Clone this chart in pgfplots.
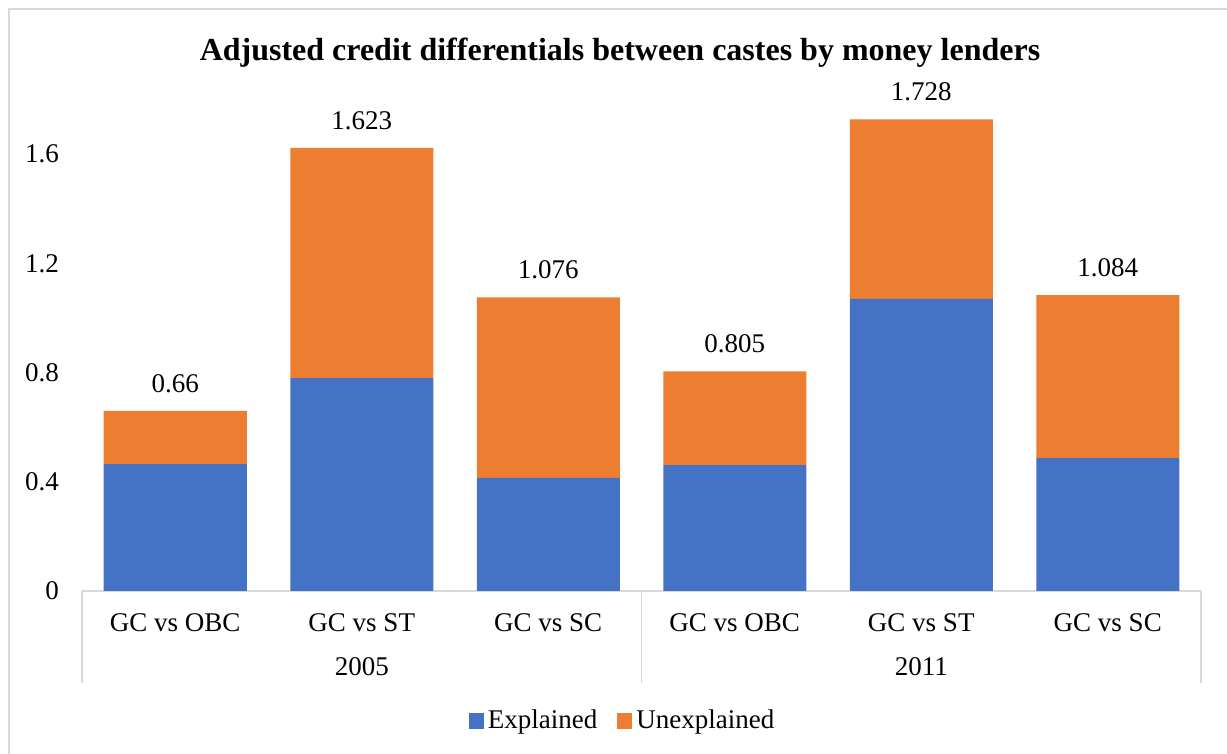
\documentclass[border=0pt]{standalone}
\usepackage{pgfplots}
\pgfplotsset{compat=1.18}
\usepackage{fontspec}
\setmainfont{Liberation Serif}
\definecolor{cblue}{HTML}{4472C4}
\definecolor{corange}{HTML}{ED7D31}
\definecolor{framec}{HTML}{D9D9D9}
\pgfplotstableread{
x e u t
0 0.465 0.195 0.66
1 0.780 0.843 1.623
2 0.414 0.662 1.076
3 0.461 0.344 0.805
4 1.070 0.658 1.728
5 0.487 0.597 1.084
}\datatable
\begin{document}
\begin{tikzpicture}[x=0.5pt,y=0.5pt]
\path[use as bounding box] (0,0) rectangle (1227,754);
\draw[framec, line width=1pt] (9,-5) -- (9,745) -- (1235,745);
\node[font=\fontsize{16}{18}\selectfont\bfseries] at (620,701) {Adjusted credit differentials between castes by money lenders};
\begin{axis}[at={(41pt,81.5pt)}, anchor=south west, scale only axis,
  width=559.5pt, height=252.5pt,
  xmin=-0.5, xmax=5.5, ymin=0, ymax=1.85,
  ybar stacked, bar width=71.5pt,
  axis x line*=bottom, axis y line*=left,
  x axis line style={draw=framec, line width=0.8pt, -},
  y axis line style={draw=none},
  major tick length=0pt,
  ytick={0,0.4,0.8,1.2,1.6},
  yticklabel style={xshift=-8pt},
  xtick={0,1,2,3,4,5},
  xticklabels={GC vs OBC,GC vs ST,GC vs SC,GC vs OBC,GC vs ST,GC vs SC},
  xticklabel style={anchor=center, yshift=-16pt},
  tick label style={font=\fontsize{13.5}{16}\selectfont},
  /pgf/number format/assume math mode=true,
  clip=false,
  legend style={at={(0.484,-0.257)}, anchor=center, draw=none, fill=none,
    legend columns=2, font=\fontsize{13.5}{16}\selectfont,
    /tikz/every even column/.append style={column sep=8pt}},
  legend image code/.code={\fill[#1] (0pt,-4pt) rectangle (7.5pt,4pt);},
]
\addplot[fill=cblue, draw=none] table[x=x, y=e] {\datatable};
\addlegendentry{Explained}
\addplot[fill=corange, draw=none,
  visualization depends on={\thisrow{u} \as \segu},
  nodes near coords, point meta=explicit symbolic,
  nodes near coords style={font=\fontsize{13.5}{16}\selectfont, text=black, anchor=south,
     shift={(axis direction cs:0,\segu/2)}, yshift=5.5pt}]
  table[x=x, y=u, meta=t] {\datatable};
\addlegendentry{Unexplained}
\draw[framec, line width=0.8pt] (axis cs:-0.5,0) -- ++(0pt,-46pt);
\draw[framec, line width=0.8pt] (axis cs:2.5,0) -- ++(0pt,-46pt);
\draw[framec, line width=0.8pt] (axis cs:5.5,0) -- ++(0pt,-46pt);
\node[font=\fontsize{13.5}{16}\selectfont] at ([yshift=-38pt]axis cs:1,0) {2005};
\node[font=\fontsize{13.5}{16}\selectfont] at ([yshift=-38pt]axis cs:4,0) {2011};
\end{axis}
\end{tikzpicture}
\end{document}
